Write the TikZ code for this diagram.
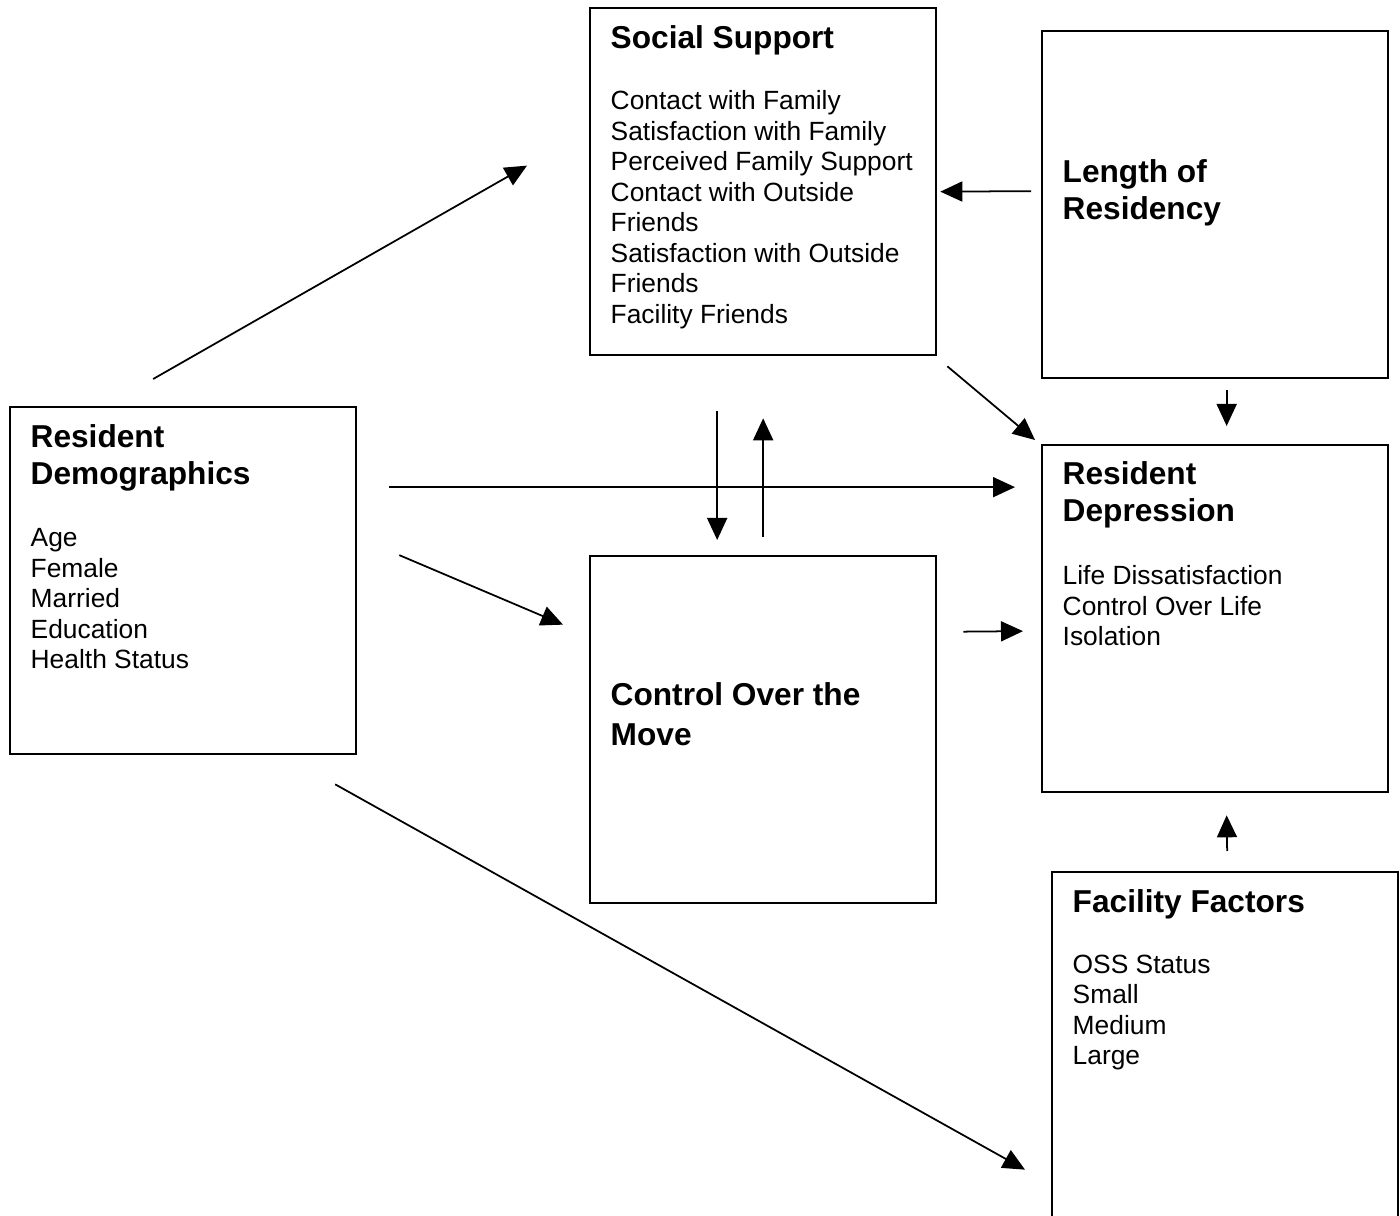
\documentclass[tikz,border=0pt]{standalone}
\usepackage{fontspec}
\setmainfont{Liberation Sans}
\usetikzlibrary{arrows.meta}
\tikzset{
    box/.style = {
        rectangle, draw, line width=0.6pt,
        minimum width=3.46cm,
        minimum height=3.47cm,
        anchor=north west, inner sep=0pt
    },
    heading/.style = {
        anchor=north west, inner sep=0pt, align=left,
        font=\bfseries\fontsize{9pt}{10.35pt}\selectfont
    },
    items/.style = {
        anchor=north west, inner sep=0pt, align=left,
        font=\fontsize{7.5pt}{8.68pt}\selectfont
    },
    arrow/.style = {
        -{Triangle[length=0.22cm, width=0.2cm]}, line width=0.5pt
    }
}

\begin{document}
\begin{tikzpicture}[x=0.01cm, y=-0.01cm]

\useasboundingbox (0,0) rectangle (1400,1216);

% boxes
\node (social) [box] at (589,7) {};
\node (length) [box] at (1041,30) {};
\node (demo) [box] at (9,406) {};
\node (depress) [box] at (1041,444) {};
\node (control) [box] at (589,555) {};
\node (facility) [box, minimum height=3.8cm] at (1051,871) {};

% texts
\node (sstitle) [heading] at ([shift={(21,18)}]social.north west) {Social Support};
\node (sslist) [items] at ([shift={(21,83)}]social.north west) {Contact with Family\\Satisfaction with Family\\Perceived Family Support\\Contact with Outside\\Friends\\Satisfaction with Outside\\Friends\\Facility Friends};
\node (lrtitle) [heading, font=\bfseries\fontsize{9pt}{10.5pt}\selectfont] at ([shift={(21,129)}]length.north west) {Length of\\Residency};
\node (rdtitle) [heading] at ([shift={(21,18)}]demo.north west) {Resident\\Demographics};
\node (rdlist) [items] at ([shift={(21,122)}]demo.north west) {Age\\Female\\Married\\Education\\Health Status};
\node (deptitle) [heading] at ([shift={(21,17)}]depress.north west) {Resident\\Depression};
\node (deplist) [items] at ([shift={(21,121)}]depress.north west) {Life Dissatisfaction\\Control Over Life\\Isolation};
\node (cmtitle) [heading, font=\bfseries\fontsize{9pt}{11.2pt}\selectfont] at ([shift={(21,127)}]control.north west) {Control Over the\\Move};
\node (fftitle) [heading] at ([shift={(21,18)}]facility.north west) {Facility Factors};
\node (fflist) [items] at ([shift={(21,83)}]facility.north west) {OSS Status\\Small\\Medium\\Large};

% arrow ends
\coordinate (ds1) at ([shift={(-30,-27)}]demo.north);
\coordinate (ds2) at ([shift={(-62,-16)}]social.west);
\coordinate (ls1) at ([shift={(-10,-13.5)}]length.west);
\coordinate (ls2) at ([shift={(3,10)}]social.east);
\coordinate (sd1) at ([shift={(10,10)}]social.south east);
\coordinate (sd2) at ([shift={(-6,-4)}]depress.north west);
\coordinate (ld1) at ([shift={(11.5,11)}]length.south);
\coordinate (ld2) at ([shift={(11.5,-18)}]depress.north);
\coordinate (sc1) at ([shift={(-46,55)}]social.south);
\coordinate (sc2) at ([shift={(-46,-15)}]control.north);
\coordinate (cs1) at ([shift={(0,-18)}]control.north);
\coordinate (cs2) at ([shift={(0,62)}]social.south);
\coordinate (dd1) at ([shift={(32,-93.5)}]demo.east);
\coordinate (dd2) at ([shift={(-26,-131.5)}]depress.west);
\coordinate (dc1) at ([shift={(42,-25.5)}]demo.east);
\coordinate (dc2) at ([shift={(-26,-105)}]control.west);
\coordinate (cd1) at ([shift={(26,-98)}]control.east);
\coordinate (cd2) at ([shift={(-18,12.5)}]depress.west);
\coordinate (fd1) at ([shift={(2,-20)}]facility.north);
\coordinate (fd2) at ([shift={(11.5,22)}]depress.south);
\coordinate (df1) at ([shift={(152,29)}]demo.south);
\coordinate (df2) at ([shift={(-26,107.5)}]facility.west);

% connectors
\draw [arrow] (ds1) -- (ds2);
\draw [arrow] (ls1) -- (ls2);
\draw [arrow] (sd1) -- (sd2);
\draw [arrow] (ld1) -- (ld2);
\draw [arrow] (sc1) -- (sc2);
\draw [arrow] (cs1) -- (cs2);
\draw [arrow] (dd1) -- (dd2);
\draw [arrow] (dc1) -- (dc2);
\draw [arrow] (cd1) -- (cd2);
\draw [arrow] (fd1) -- (fd2);
\draw [arrow] (df1) -- (df2);

\end{tikzpicture}
\end{document}
